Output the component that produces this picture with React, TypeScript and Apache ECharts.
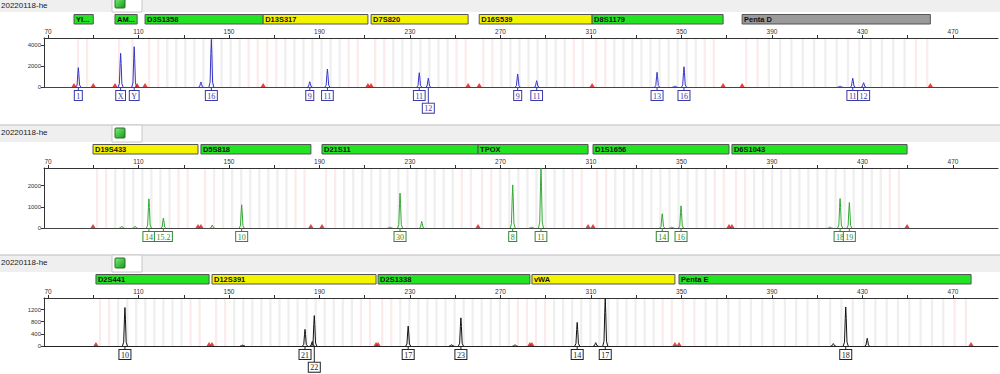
import React, { useEffect, useRef } from "react";
import * as echarts from "echarts";

const RUN_NAME = "20220118-he";

const X_MIN = 68.23;
const X_MAX = 489.9;
const X_TICKS = [70, 90, 110, 130, 150, 170, 190, 210, 230, 250, 270, 290, 310, 330, 350, 370, 390, 410, 430, 450, 470, 490];
const X_LABELS = [70, 110, 150, 190, 230, 270, 310, 350, 390, 430, 470];

// locus bars: [name, start bp, end bp, status, repeat unit]
type Locus = [string, number, number, string, number];
const loci1: Locus[] = [
  ["YI...", 81.5, 90.0, "ok", 4],
  ["AM...", 99.6, 109.4, "ok", 6],
  ["D3S1358", 112.9, 165.1, "ok", 4],
  ["D13S317", 165.1, 211.4, "check", 4],
  ["D7S820", 212.8, 255.7, "check", 4],
  ["D16S539", 260.6, 310.5, "check", 4],
  ["D8S1179", 310.5, 368.4, "ok", 4],
  ["Penta D", 376.8, 460.0, "none", 5],
];
const loci2: Locus[] = [
  ["D19S433", 89.9, 136.3, "check", 4],
  ["D5S818", 137.6, 186.2, "ok", 4],
  ["D21S11", 191.1, 260.1, "ok", 4],
  ["TPOX", 260.1, 308.7, "ok", 4],
  ["D1S1656", 310.9, 371.0, "ok", 4],
  ["D6S1043", 372.3, 449.7, "ok", 4],
];
const loci3: Locus[] = [
  ["D2S441", 91.2, 141.2, "ok", 4],
  ["D12S391", 142.5, 215.0, "check", 4],
  ["D2S1338", 215.9, 283.0, "ok", 4],
  ["vWA", 283.9, 347.1, "check", 4],
  ["Penta E", 348.9, 478.0, "ok", 5],
];

// peaks: [size bp, height RFU]
const peaks1 = [
  [83.4, 1840], [102.1, 3210], [108.1, 3840], [137.6, 480], [142.2, 4540],
  [185.7, 505], [193.5, 1710], [234.1, 1360], [238.1, 830], [277.6, 1240],
  [286.0, 600], [339.2, 1400], [347.1, 90], [351.1, 1930], [420.1, 90],
  [425.7, 830], [430.5, 410],
];
const peaks2 = [
  [102.6, 90], [108.5, 90], [114.6, 1375], [121.0, 470], [142.6, 140],
  [155.6, 1094], [221.2, 60], [225.6, 1643], [235.2, 310], [275.4, 2033],
  [283.8, 60], [287.9, 2817], [341.5, 671], [345.7, 50], [349.8, 1047],
  [415.7, 50], [420.1, 1390], [424.2, 1202],
];
const peaks3 = [
  [104.0, 1265], [156.0, 40], [183.6, 546], [186.8, 150], [187.7, 1000],
  [229.2, 654], [248.4, 50], [252.5, 926], [276.4, 40], [303.9, 775],
  [312.1, 110], [316.3, 1560], [417.1, 80], [422.6, 1285], [432.1, 252],
];

// allele calls: [size bp, allele, label row]
const alleles1: [number, string, number][] = [
  [83.4, "1", 0], [102.1, "X", 0], [108.1, "Y", 0], [142.2, "16", 0],
  [185.7, "9", 0], [193.5, "11", 0], [234.1, "11", 0], [238.1, "12", 1],
  [277.6, "9", 0], [286.0, "11", 0], [339.2, "13", 0], [351.1, "16", 0],
  [425.7, "11", 0], [430.5, "12", 0],
];
const alleles2: [number, string, number][] = [
  [114.6, "14", 0], [121.0, "15.2", 0], [155.6, "10", 0], [225.6, "30", 0],
  [275.4, "8", 0], [287.9, "11", 0], [341.5, "14", 0], [349.8, "16", 0],
  [420.1, "18", 0], [424.2, "19", 0],
];
const alleles3: [number, string, number][] = [
  [104.0, "10", 0], [183.6, "21", 0], [187.7, "22", 1], [229.2, "17", 0],
  [252.5, "23", 0], [303.9, "14", 0], [316.3, "17", 0], [422.6, "18", 0],
];

const yTicks1 = [0, 2000, 4000];
const yTicks2 = [0, 1000, 2000];
const yTicks3 = [0, 400, 800, 1200];

const BAR_FILL: Record<string, string> = { ok: "#22e422", check: "#f4f400", none: "#9a9a9a" };
const PEAK_SHAPE = [[-1.1, 0], [-0.55, 0.1], [-0.22, 0.7], [0, 1], [0.22, 0.7], [0.55, 0.1], [1.1, 0]];

const panels = [
  { top: 38, height: 49, ymax: 4667, yTicks: yTicks1, loci: loci1, peaks: peaks1, alleles: alleles1, trace: "#3535c8", label: "#3a3aa8", base: "#444" },
  { top: 168, height: 60, ymax: 2830, yTicks: yTicks2, loci: loci2, peaks: peaks2, alleles: alleles2, trace: "#33a833", label: "#2f8a2f", base: "#444" },
  { top: 298, height: 48, ymax: 1580, yTicks: yTicks3, loci: loci3, peaks: peaks3, alleles: alleles3, trace: "#111111", label: "#222222", base: "#222" },
];

function traceData(peaks: number[][]) {
  const out: any[] = [];
  peaks.forEach(([bp, h]) => {
    PEAK_SHAPE.forEach(([dx, f]) => out.push([bp + dx, h * f]));
    out.push(null);
  });
  return out;
}

function binData(loci: Locus[]) {
  const out: number[][] = [];
  loci.forEach((l) => {
    const list: number[] = [];
    for (let b = l[1] + 1.8; b < l[2] - 1; b += l[4]) list.push(b);
    list.forEach((b, i) => {
      const pink = i < 2 || i >= list.length - 2 ? 1 : 0;
      out.push([b, pink]);
    });
  });
  return out;
}

function boundaryData(loci: Locus[]) {
  const vals: number[] = [];
  loci.forEach((l) => {
    [l[1], l[2]].forEach((v) => {
      if (!vals.some((u) => Math.abs(u - v) < 0.3)) vals.push(v);
    });
  });
  return vals.map((v) => [v, 0]);
}

function buildOption() {
  const grid: any[] = [];
  const xAxis: any[] = [];
  const yAxis: any[] = [];
  const series: any[] = [];
  const graphic: any[] = [];

  panels.forEach((p, i) => {
    grid.push({ left: 44, width: 954, top: p.top, height: p.height });
    xAxis.push({
      type: "value", gridIndex: i, position: "top", min: X_MIN, max: X_MAX,
      axisLine: { show: true, onZero: false, lineStyle: { color: "#333", width: 1 } },
      axisTick: { show: true, customValues: X_TICKS, length: 3, lineStyle: { color: "#333" } },
      axisLabel: { show: true, customValues: X_LABELS, fontSize: 6.5, color: "#333", margin: 3 },
      splitLine: { show: false },
    });
    xAxis.push({
      type: "value", gridIndex: i, position: "bottom", min: X_MIN, max: X_MAX,
      axisLine: { show: true, onZero: false, lineStyle: { color: p.base, width: 1 } },
      axisTick: { show: false }, axisLabel: { show: false }, splitLine: { show: false },
    });
    yAxis.push({
      type: "value", gridIndex: i, min: 0, max: p.ymax,
      axisLine: { show: true, onZero: false, lineStyle: { color: "#333" } },
      axisTick: { show: true, customValues: p.yTicks, length: 3, lineStyle: { color: "#333" } },
      axisLabel: { customValues: p.yTicks, fontSize: 6, color: "#333", margin: 3, formatter: (v: number) => String(v) },
      splitLine: { show: false },
    });
    const xi = i * 2;

    // bins
    series.push({
      type: "custom", xAxisIndex: xi, yAxisIndex: i, silent: true, z: 1,
      data: binData(p.loci),
      renderItem: (params: any, api: any) => {
        const b = api.value(0);
        const a = api.coord([b - 0.5, 0]);
        const c = api.coord([b + 0.5, 0]);
        const cs = params.coordSys;
        return {
          type: "rect",
          shape: { x: a[0], y: cs.y + 1, width: c[0] - a[0], height: cs.height - 1 },
          style: { fill: api.value(1) ? "#fcebeb" : "#efefef" },
        };
      },
    });

    // trace
    series.push({
      type: "line", xAxisIndex: xi, yAxisIndex: i, z: 3,
      data: traceData(p.peaks), showSymbol: false, symbol: "none",
      connectNulls: false,
      lineStyle: { color: p.trace, width: 1 },
    });

    // locus boundary markers
    series.push({
      type: "scatter", xAxisIndex: xi, yAxisIndex: i, z: 4, clip: false,
      data: boundaryData(p.loci), symbol: "triangle", symbolSize: [5, 4],
      symbolOffset: [0, -2], itemStyle: { color: "#e01010" },
    });

    // locus bars
    series.push({
      type: "custom", xAxisIndex: xi, yAxisIndex: i, z: 5, clip: false, silent: true,
      data: p.loci.map((l, k) => [l[1], l[2], k]),
      renderItem: (params: any, api: any) => {
        const s = api.coord([api.value(0), 0]);
        const e = api.coord([api.value(1), 0]);
        const l = p.loci[api.value(2)];
        const y = params.coordSys.y - 23.5;
        return {
          type: "group",
          children: [
            { type: "rect", shape: { x: s[0], y, width: e[0] - s[0], height: 9.5 }, style: { fill: BAR_FILL[l[3]], stroke: "#555", lineWidth: 1 } },
            { type: "text", style: { text: l[0], x: s[0] + 2, y: y + 5, align: "left", verticalAlign: "middle", font: 'bold 7.5px "Liberation Sans"', fill: "#111" } },
          ],
        };
      },
    });

    // allele labels
    series.push({
      type: "custom", xAxisIndex: xi, yAxisIndex: i, z: 6, clip: false, silent: true,
      data: p.alleles.map((a, k) => [a[0], a[2], k]),
      renderItem: (params: any, api: any) => {
        const pt = api.coord([api.value(0), 0]);
        const a = p.alleles[api.value(2)];
        const yTop = pt[1] + 4 + api.value(1) * 12.7;
        return {
          type: "group",
          children: [
            { type: "line", shape: { x1: pt[0], y1: pt[1], x2: pt[0], y2: yTop }, style: { stroke: p.label, lineWidth: 1 } },
            {
              type: "text",
              style: {
                text: a[1], x: pt[0], y: yTop, align: "center", verticalAlign: "top",
                font: '8px "Liberation Serif"', fill: p.label,
                backgroundColor: "#fff", borderColor: p.label, borderWidth: 1, padding: [1, 1.5, 0, 1.5],
              },
            },
          ],
        };
      },
    });

    // header strip
    const T = p.top;
    graphic.push(
      { type: "rect", shape: { x: 0, y: T - 43, width: 1000, height: 17 }, style: { fill: "#efefef", stroke: "none" }, z: 0 },
      { type: "line", shape: { x1: 0, y1: T - 43, x2: 1000, y2: T - 43 }, style: { stroke: "#bdbdbd", lineWidth: 1 }, z: 0 },
      { type: "text", x: 1, y: Math.max(T - 35.5, 5), style: { text: RUN_NAME, font: '8px "Liberation Sans"', fill: "#222", verticalAlign: "middle" }, z: 1 },
      { type: "rect", shape: { x: 112, y: T - 43, width: 30, height: 17 }, style: { fill: "#fff", stroke: "#c8c8c8", lineWidth: 1 }, z: 1 },
      {
        type: "rect", shape: { x: 115, y: T - 40, width: 10, height: 10, r: 1 },
        style: {
          fill: new echarts.graphic.LinearGradient(0, 0, 1, 1, [
            { offset: 0, color: "#7cf07c" }, { offset: 1, color: "#129a12" },
          ]),
          stroke: "#2a6a2a", lineWidth: 1,
        }, z: 2,
      },
    );
  });

  return {
    animation: false,
    backgroundColor: "#fff",
    textStyle: { fontFamily: '"Liberation Sans", Arial, sans-serif' },
    grid, xAxis, yAxis, series, graphic,
  };
}

export default function App() {
  const ref = useRef<HTMLDivElement>(null);
  useEffect(() => {
    if (!ref.current) return;
    const chart = echarts.init(ref.current, undefined, { renderer: "svg" });
    chart.setOption(buildOption() as any);
    return () => chart.dispose();
  }, []);
  return <div ref={ref} style={{ position: "fixed", left: 0, top: 0, width: 1000, height: 374 }} />;
}
